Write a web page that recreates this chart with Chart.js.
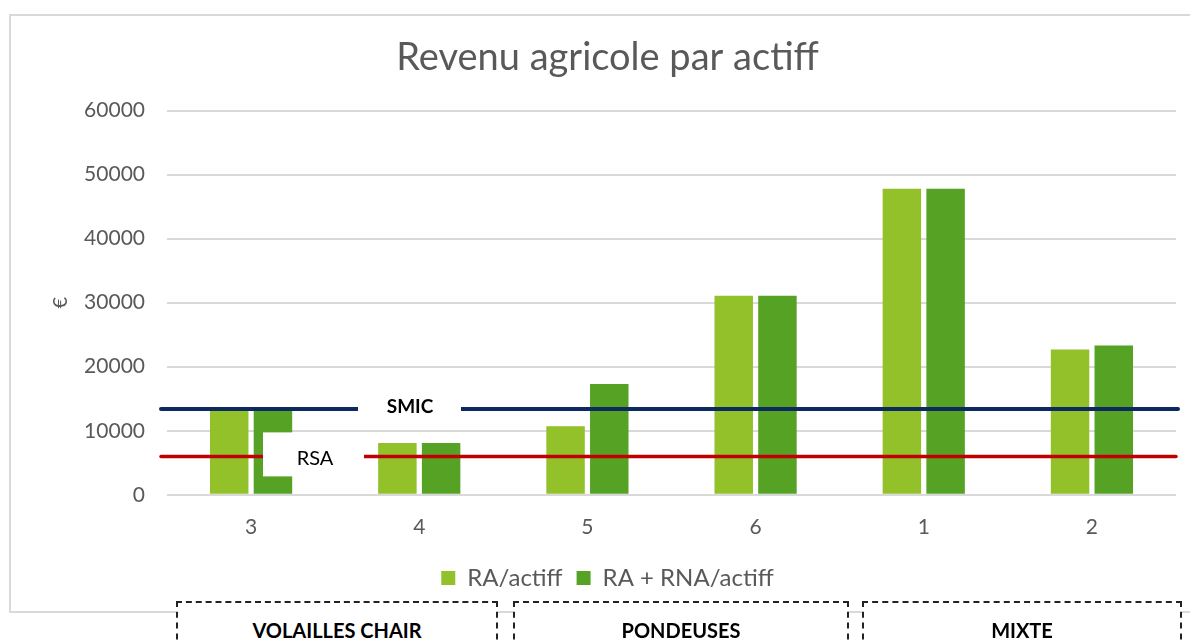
<!DOCTYPE html>
<html>
<head>
<meta charset="utf-8">
<script src="https://cdn.jsdelivr.net/npm/chart.js@4/dist/chart.umd.min.js"></script>
<style>
  body { margin: 0; background: #fff; width: 1190px; height: 644px; overflow: hidden; position: relative; font-family: Lato, "Open Sans", sans-serif; }
  #frame { position: absolute; left: 9px; top: 14px; width: 1200px; height: 599px; border: 2px solid #d9d9d9; box-sizing: border-box; }
  #wrap { position: absolute; left: 9px; top: 14px; width: 1181px; height: 598px; }
  .grp { position: absolute; top: 601px; height: 60px; border: 2px dashed #222; box-sizing: border-box; background: #fff;
         font: bold 20px Lato, sans-serif; color: #000; text-align: center; padding-top: 15px; }
</style>
</head>
<body>
<div id="frame"></div>
<div id="wrap"><canvas id="myChart"></canvas></div>
<div class="grp" style="left:176px;width:322px;">VOLAILLES CHAIR</div>
<div class="grp" style="left:513px;width:336px;">PONDEUSES</div>
<div class="grp" style="left:862px;width:320px;">MIXTE</div>
<script>
// categories (farm numbers)
var farms = ["3", "4", "5", "6", "1", "2"];
// revenu agricole par actif
var raActif = [13500, 8100, 10700, 31100, 47800, 22700];
// revenu agricole + revenu non agricole par actif
var raRnaActif = [13500, 8100, 17300, 31100, 47800, 23300];
// reference levels
var smic = 13400;
var rsa = 6000;

var refLines = {
  id: 'refLines',
  afterDatasetsDraw: function(chart) {
    var ctx = chart.ctx, a = chart.chartArea, y = chart.scales.y;
    var ySmic = y.getPixelForValue(smic), yRsa = y.getPixelForValue(rsa);
    ctx.save();
    ctx.lineCap = 'round';
    ctx.strokeStyle = '#0c2a60';
    ctx.lineWidth = 4;
    ctx.beginPath(); ctx.moveTo(a.left - 6, ySmic); ctx.lineTo(a.right + 2, ySmic); ctx.stroke();
    ctx.strokeStyle = '#c00000';
    ctx.lineWidth = 3.5;
    ctx.beginPath(); ctx.moveTo(a.left - 6, yRsa); ctx.lineTo(a.right, yRsa); ctx.stroke();
    // label boxes
    ctx.fillStyle = '#fff';
    ctx.fillRect(a.left + 191, ySmic - 17, 103, 30);
    ctx.fillRect(a.left + 96, yRsa - 24, 101, 44);
    ctx.fillStyle = '#000';
    ctx.textAlign = 'center';
    ctx.textBaseline = 'middle';
    ctx.font = 'bold 19px Lato, sans-serif';
    ctx.fillText('SMIC', a.left + 243, ySmic - 2);
    ctx.font = '20px Lato, sans-serif';
    ctx.fillText('RSA', a.left + 148, yRsa + 2);
    ctx.restore();
  }
};

var ctx = document.getElementById("myChart");
var myChart = new Chart(ctx, {
  type: 'bar',
  data: {
    labels: farms,
    datasets: [
      { label: "RA/actiff", backgroundColor: "#92c12a", data: raActif },
      { label: "RA + RNA/actiff", backgroundColor: "#56a224", data: raRnaActif }
    ]
  },
  options: {
    responsive: true,
    maintainAspectRatio: false,
    animation: false,
    categoryPercentage: 0.52,
    barPercentage: 0.88,
    layout: { padding: { left: 30, right: 14, top: 0, bottom: 12 } },
    plugins: {
      title: {
        display: true,
        text: 'Revenu agricole par actiff',
        color: '#595959',
        font: { family: 'Lato, sans-serif', size: 38, weight: 'normal' },
        padding: { top: 21, bottom: 30 }
      },
      legend: {
        position: 'bottom',
        labels: {
          color: '#595959',
          font: { family: 'Lato, sans-serif', size: 24 },
          boxWidth: 14, boxHeight: 14, padding: 14
        }
      },
      tooltip: { enabled: false }
    },
    scales: {
      x: {
        grid: { display: false },
        border: { display: false },
        ticks: { color: '#595959', font: { family: 'Lato, sans-serif', size: 21 }, padding: 12 }
      },
      y: {
        min: 0, max: 60000,
        afterFit: function(s) { s.width = 128; },
        ticks: {
          stepSize: 10000, color: '#595959', font: { family: 'Lato, sans-serif', size: 21 }, padding: 22,
          callback: function(v) { return String(v); }
        },
        grid: { color: '#d9d9d9', lineWidth: 2, drawTicks: false },
        border: { display: false },
        title: { display: true, text: '€', color: '#595959', font: { family: 'Lato, sans-serif', size: 20 }, padding: 10 }
      }
    }
  },
  plugins: [refLines]
});
</script>
</body>
</html>
